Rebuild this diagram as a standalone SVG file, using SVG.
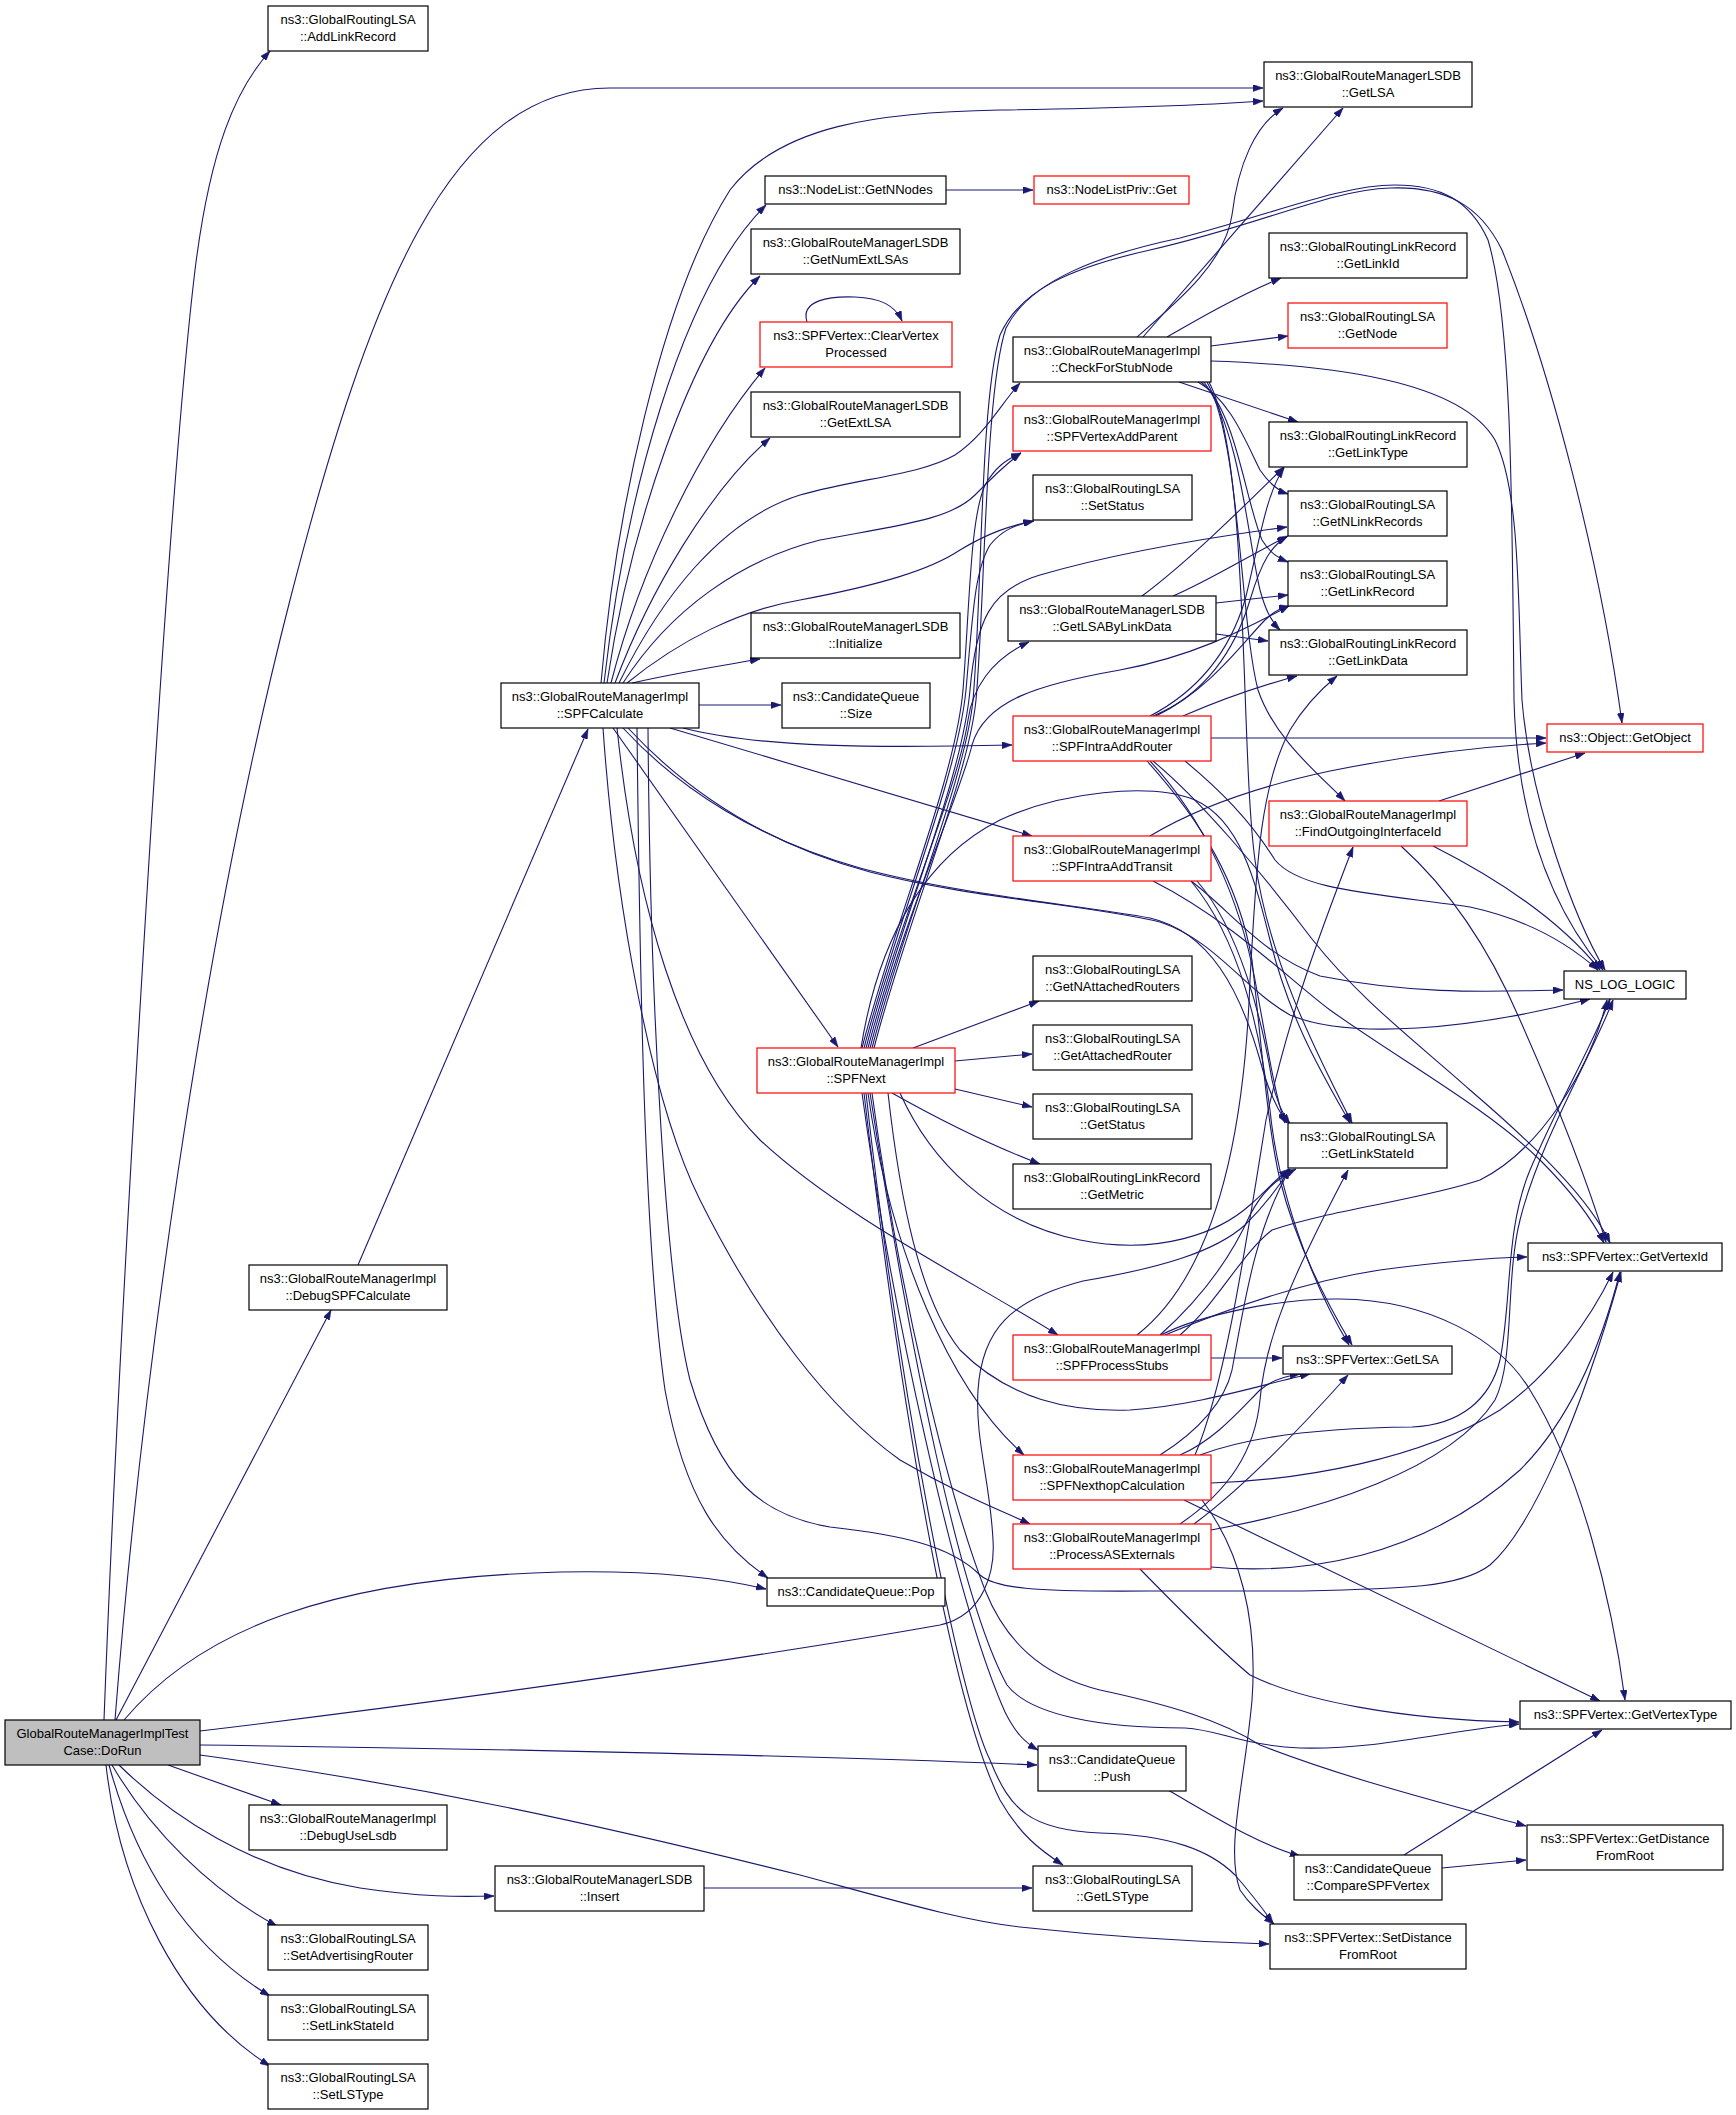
<svg xmlns="http://www.w3.org/2000/svg" width="1736" height="2115" viewBox="0 0 1736 2115">
<style>
.n rect{fill:#fff;stroke:#000;stroke-width:1.2}
.r rect{stroke:#ff0000}
.g rect{fill:#bfbfbf}
text{font-family:"Liberation Sans",Arial,Helvetica,sans-serif;font-size:13px;text-anchor:middle;fill:#000}
.e path{fill:none;stroke:#191970;stroke-width:1.1;marker-end:url(#a)}
</style>
<defs>
<marker id="a" viewBox="0 0 10 7" refX="10" refY="3.5" markerWidth="10" markerHeight="7" orient="auto" markerUnits="userSpaceOnUse"><path d="M0,0L10,3.5L0,7z" fill="#191970" stroke="#191970" stroke-width="0.5"/></marker>
</defs>
<rect width="1736" height="2115" fill="#fff"/>
<g id="edges" class="e">
<path d="M104,1720 C118,1350 165,520 195,270 C210,150 235,90 270,51"/>
<path d="M115,1720 C140,1400 200,950 290,600 C370,290 450,88 610,88 L1263,88"/>
<path d="M116,1720 L331,1310"/>
<path d="M124,1720 C200,1630 330,1578 560,1572 C660,1570 720,1578 766,1589"/>
<path d="M200,1731 C500,1695 800,1650 940,1625 C985,1615 995,1570 993,1540 C990,1480 975,1440 978,1390 C982,1330 1010,1300 1083,1281 C1160,1268 1215,1252 1245,1225 C1265,1205 1278,1188 1290,1169"/>
<path d="M200,1745 C450,1748 800,1755 1037,1765"/>
<path d="M200,1755 C420,1785 600,1825 800,1875 C900,1902 960,1920 1020,1927 C1120,1938 1200,1942 1269,1944"/>
<path d="M168,1765 L281,1805"/>
<path d="M119,1765 C170,1815 250,1870 360,1888 C420,1897 460,1897 494,1896"/>
<path d="M112,1765 C150,1830 210,1890 277,1926"/>
<path d="M109,1765 C135,1860 185,1945 270,1996"/>
<path d="M106,1765 C120,1890 180,2010 270,2066"/>
<path d="M704,1888 L1032,1888"/>
<path d="M358,1265 L588,729"/>
<path d="M601,683 C615,520 660,300 730,190 C780,125 880,112 1000,110 C1140,108 1220,104 1263,101"/>
<path d="M604,683 C625,500 680,290 766,205"/>
<path d="M607,683 C630,530 690,345 760,276"/>
<path d="M611,683 C640,570 700,445 765,368"/>
<path d="M615,683 C650,590 710,490 770,438"/>
<path d="M619,683 C660,600 720,520 800,495 C860,478 920,475 955,455 C985,435 1000,405 1020,383"/>
<path d="M623,683 C670,610 740,560 820,540 C900,525 950,520 975,495 C995,475 1005,465 1021,453"/>
<path d="M627,683 C680,640 740,610 800,600 C880,585 930,570 960,550 C990,532 1010,526 1033,521"/>
<path d="M632,683 C680,672 720,666 760,659"/>
<path d="M699,705 L781,705"/>
<path d="M683,728 C760,748 880,748 1012,745"/>
<path d="M670,728 L1032,836"/>
<path d="M613,728 L838,1047"/>
<path d="M623,728 C680,790 760,840 860,868 C960,895 1080,905 1150,918 C1210,932 1240,990 1260,1060 C1268,1090 1276,1108 1287,1123"/>
<path d="M628,728 C690,795 770,845 870,872 C970,898 1090,905 1160,922 C1215,940 1245,990 1290,1015 C1350,1040 1470,1030 1590,999"/>
<path d="M637,728 C640,1000 645,1250 665,1390 C685,1500 720,1545 768,1578"/>
<path d="M648,728 C650,1000 665,1280 690,1380 C720,1480 760,1515 830,1527 C900,1535 950,1545 980,1575 C995,1588 1030,1592 1150,1591 L1300,1591 C1400,1589 1460,1588 1490,1565 C1530,1530 1580,1420 1621,1272"/>
<path d="M603,728 C615,900 650,1100 700,1200 C760,1320 830,1410 900,1460 C960,1495 1000,1510 1030,1524"/>
<path d="M617,728 C635,900 680,1060 760,1140 C840,1215 970,1280 1058,1335"/>
<path d="M913,1048 L1039,1001"/>
<path d="M955,1061 L1032,1054"/>
<path d="M955,1089 L1032,1107"/>
<path d="M892,1093 C940,1120 990,1145 1040,1164"/>
<path d="M862,1048 C895,920 955,780 963,690 C970,600 970,520 985,485 C995,468 1005,460 1021,453"/>
<path d="M864,1048 C897,920 957,780 966,690 C973,610 975,570 990,545 C1002,530 1015,525 1034,521"/>
<path d="M866,1048 C899,920 958,790 968,720 C972,690 990,660 1029,642"/>
<path d="M868,1048 C901,920 962,780 970,690 C976,620 990,590 1040,575 C1120,552 1220,536 1287,527"/>
<path d="M870,1048 C903,920 962,790 972,745 C985,700 1040,684 1120,670 C1190,657 1240,632 1289,606"/>
<path d="M872,1048 C905,920 965,780 973,700 C982,600 980,400 1000,335 C1020,290 1070,268 1150,250 C1260,225 1330,190 1390,188 C1445,186 1480,205 1502,250 C1550,370 1600,560 1622,723"/>
<path d="M874,1048 C907,920 968,780 976,700 C985,600 985,390 1006,328 C1030,280 1100,255 1180,238 C1270,215 1340,185 1395,185 C1440,185 1470,200 1488,240 C1512,320 1512,500 1514,700 C1518,850 1570,930 1603,970"/>
<path d="M861,1048 C880,930 930,855 1000,820 C1060,792 1150,782 1195,800 C1240,820 1255,880 1270,940 C1290,1020 1320,1070 1350,1123"/>
<path d="M900,1093 C930,1160 990,1222 1080,1240 C1160,1256 1220,1232 1250,1205 C1265,1192 1275,1180 1289,1169"/>
<path d="M868,1093 C890,1250 950,1390 1024,1455"/>
<path d="M862,1093 C890,1300 955,1600 1005,1712 C1015,1732 1024,1742 1038,1750"/>
<path d="M864,1093 C900,1400 950,1700 1000,1800 C1020,1835 1040,1850 1063,1865"/>
<path d="M866,1093 C900,1400 960,1700 990,1760 C1010,1810 1030,1830 1100,1833 C1170,1835 1210,1850 1235,1875 C1250,1892 1260,1905 1273,1923"/>
<path d="M870,1093 C910,1350 960,1600 1007,1685 C1030,1715 1100,1728 1185,1728 C1220,1730 1240,1745 1300,1748 C1380,1750 1450,1730 1519,1724"/>
<path d="M872,1093 C900,1300 950,1500 985,1590 C1005,1640 1040,1675 1100,1690 C1170,1705 1220,1720 1260,1745 C1350,1780 1450,1805 1526,1826"/>
<path d="M888,1093 C900,1200 920,1300 960,1350 C1010,1400 1070,1412 1130,1410 C1200,1405 1260,1385 1310,1374"/>
<path d="M946,190 L1033,190"/>
<path d="M807,322 C800,300 830,296 855,297 C880,298 895,305 902,321"/>
<path d="M1137,337 C1180,300 1225,262 1232,215 C1238,165 1255,125 1283,108"/>
<path d="M1143,337 L1343,108"/>
<path d="M1167,337 C1200,318 1240,295 1281,278"/>
<path d="M1211,346 L1288,336"/>
<path d="M1211,361 C1330,365 1460,380 1495,440 C1520,490 1518,600 1522,700 C1530,800 1575,920 1605,970"/>
<path d="M1179,382 L1298,422"/>
<path d="M1198,382 C1230,400 1245,440 1260,470 C1268,482 1276,490 1288,494"/>
<path d="M1201,382 C1236,410 1245,500 1262,540 C1270,553 1278,558 1288,562"/>
<path d="M1204,382 C1240,430 1248,540 1260,590 C1265,608 1270,620 1280,630"/>
<path d="M1207,382 C1240,440 1240,620 1258,690 C1275,740 1320,775 1345,801"/>
<path d="M1209,382 C1250,460 1240,750 1255,860 C1268,960 1320,1060 1352,1123"/>
<path d="M1142,596 C1190,560 1240,510 1284,467"/>
<path d="M1173,596 C1210,580 1250,555 1288,536"/>
<path d="M1216,603 L1288,595"/>
<path d="M1216,634 L1268,641"/>
<path d="M1211,738 L1546,738"/>
<path d="M1150,716 C1200,690 1230,650 1245,600 C1258,550 1265,495 1284,468"/>
<path d="M1153,716 C1205,695 1235,650 1250,600 C1262,560 1272,545 1287,537"/>
<path d="M1156,716 C1210,690 1245,640 1265,620 C1273,612 1280,608 1289,606"/>
<path d="M1183,716 C1220,700 1260,686 1297,676"/>
<path d="M1185,761 C1220,790 1250,820 1275,860 C1300,890 1370,893 1470,907 C1530,920 1570,945 1598,970"/>
<path d="M1153,761 C1200,800 1260,870 1312,939 C1360,1000 1420,1045 1470,1090 C1540,1150 1590,1200 1610,1243"/>
<path d="M1150,761 C1205,820 1240,900 1255,980 C1268,1050 1275,1095 1285,1123"/>
<path d="M1147,761 C1200,820 1238,880 1252,960 C1262,1050 1268,1130 1280,1180 C1295,1240 1325,1300 1352,1345"/>
<path d="M1150,836 C1200,806 1260,786 1330,771 C1420,753 1490,746 1546,743"/>
<path d="M1191,881 C1230,910 1262,955 1320,976 C1420,996 1500,991 1563,990"/>
<path d="M1153,881 C1230,920 1290,980 1330,1010 C1400,1060 1490,1110 1540,1160 C1570,1190 1590,1215 1604,1243"/>
<path d="M1197,881 C1240,930 1262,1020 1272,1080 C1276,1100 1281,1112 1290,1124"/>
<path d="M1191,881 C1240,940 1260,1030 1270,1110 C1278,1190 1310,1280 1349,1345"/>
<path d="M1439,801 L1585,753"/>
<path d="M1433,846 C1500,880 1560,920 1600,970"/>
<path d="M1401,846 C1450,890 1490,950 1520,1020 C1560,1110 1590,1190 1606,1242"/>
<path d="M1211,1358 L1282,1358"/>
<path d="M1160,1335 C1205,1295 1232,1255 1250,1215 C1262,1192 1275,1180 1296,1169"/>
<path d="M1165,1335 C1220,1312 1300,1282 1380,1270 C1440,1262 1480,1258 1527,1257"/>
<path d="M1161,1335 C1200,1315 1280,1298 1340,1299 C1430,1300 1500,1340 1530,1390 C1580,1470 1612,1600 1625,1700"/>
<path d="M1180,1335 C1220,1300 1240,1255 1272,1230 C1330,1210 1420,1200 1480,1180 C1540,1150 1590,1070 1607,1000"/>
<path d="M1137,1335 C1220,1270 1245,1120 1250,980 C1256,880 1258,790 1290,730 C1305,705 1320,690 1337,676"/>
<path d="M1195,1455 C1225,1385 1245,1250 1266,1120 C1290,1010 1325,920 1353,847"/>
<path d="M1160,1455 C1200,1430 1225,1400 1232,1370 C1245,1300 1255,1230 1290,1169"/>
<path d="M1180,1455 C1215,1440 1240,1410 1260,1390 C1272,1380 1285,1376 1300,1374"/>
<path d="M1200,1455 C1240,1440 1300,1428 1412,1427 C1460,1425 1490,1400 1500,1360 C1512,1300 1505,1230 1530,1170 C1560,1100 1595,1040 1610,999"/>
<path d="M1211,1483 C1300,1480 1420,1460 1500,1410 C1550,1375 1590,1320 1613,1272"/>
<path d="M1184,1500 L1600,1701"/>
<path d="M1202,1500 C1240,1550 1258,1620 1252,1700 C1245,1780 1225,1850 1240,1890 C1250,1905 1260,1913 1274,1924"/>
<path d="M1194,1524 C1240,1490 1290,1440 1348,1375"/>
<path d="M1180,1524 C1230,1490 1255,1450 1260,1400 C1265,1340 1290,1280 1348,1170"/>
<path d="M1211,1530 C1320,1510 1450,1470 1495,1400 C1515,1360 1505,1280 1520,1220 C1540,1140 1590,1060 1613,1000"/>
<path d="M1211,1567 C1300,1575 1420,1560 1520,1470 C1570,1420 1600,1350 1620,1272"/>
<path d="M1140,1569 C1180,1610 1220,1650 1250,1675 C1300,1700 1400,1720 1519,1722"/>
<path d="M1168,1790 C1220,1820 1260,1845 1300,1856"/>
<path d="M1404,1855 L1602,1730"/>
<path d="M1442,1868 L1526,1860"/>
</g>
<g id="n_DoRun" class="n g"><rect x="5" y="1720" width="195" height="45"/><text x="102.5" y="1738">GlobalRouteManagerImplTest</text><text x="102.5" y="1754.5">Case::DoRun</text></g>
<g id="n_AddLinkRecord" class="n"><rect x="268" y="6" width="160" height="45"/><text x="348" y="24">ns3::GlobalRoutingLSA</text><text x="348" y="40.5">::AddLinkRecord</text></g>
<g id="n_LSDBGetLSA" class="n"><rect x="1264" y="62" width="208" height="45"/><text x="1368" y="80">ns3::GlobalRouteManagerLSDB</text><text x="1368" y="96.5">::GetLSA</text></g>
<g id="n_DebugSPFCalculate" class="n"><rect x="249" y="1265" width="198" height="45"/><text x="348" y="1283">ns3::GlobalRouteManagerImpl</text><text x="348" y="1299.5">::DebugSPFCalculate</text></g>
<g id="n_SPFCalculate" class="n"><rect x="501" y="683" width="198" height="45"/><text x="600" y="701">ns3::GlobalRouteManagerImpl</text><text x="600" y="717.5">::SPFCalculate</text></g>
<g id="n_GetNNodes" class="n"><rect x="765" y="176" width="181" height="28"/><text x="855.5" y="194">ns3::NodeList::GetNNodes</text></g>
<g id="n_NodeListPrivGet" class="n r"><rect x="1034" y="176" width="155" height="28"/><text x="1111.5" y="194">ns3::NodeListPriv::Get</text></g>
<g id="n_GetNumExtLSAs" class="n"><rect x="751" y="229" width="209" height="45"/><text x="855.5" y="247">ns3::GlobalRouteManagerLSDB</text><text x="855.5" y="263.5">::GetNumExtLSAs</text></g>
<g id="n_ClearVertexProcessed" class="n r"><rect x="760" y="322" width="192" height="45"/><text x="856" y="340">ns3::SPFVertex::ClearVertex</text><text x="856" y="356.5">Processed</text></g>
<g id="n_GetExtLSA" class="n"><rect x="751" y="392" width="209" height="45"/><text x="855.5" y="410">ns3::GlobalRouteManagerLSDB</text><text x="855.5" y="426.5">::GetExtLSA</text></g>
<g id="n_Initialize" class="n"><rect x="751" y="613" width="209" height="45"/><text x="855.5" y="631">ns3::GlobalRouteManagerLSDB</text><text x="855.5" y="647.5">::Initialize</text></g>
<g id="n_Size" class="n"><rect x="782" y="683" width="148" height="45"/><text x="856" y="701">ns3::CandidateQueue</text><text x="856" y="717.5">::Size</text></g>
<g id="n_CheckForStubNode" class="n"><rect x="1013" y="337" width="198" height="45"/><text x="1112" y="355">ns3::GlobalRouteManagerImpl</text><text x="1112" y="371.5">::CheckForStubNode</text></g>
<g id="n_SPFVertexAddParent" class="n r"><rect x="1013" y="406" width="198" height="45"/><text x="1112" y="424">ns3::GlobalRouteManagerImpl</text><text x="1112" y="440.5">::SPFVertexAddParent</text></g>
<g id="n_SetStatus" class="n"><rect x="1033" y="475" width="159" height="45"/><text x="1112.5" y="493">ns3::GlobalRoutingLSA</text><text x="1112.5" y="509.5">::SetStatus</text></g>
<g id="n_GetLSAByLinkData" class="n"><rect x="1008" y="596" width="208" height="45"/><text x="1112" y="614">ns3::GlobalRouteManagerLSDB</text><text x="1112" y="630.5">::GetLSAByLinkData</text></g>
<g id="n_SPFIntraAddRouter" class="n r"><rect x="1013" y="716" width="198" height="45"/><text x="1112" y="734">ns3::GlobalRouteManagerImpl</text><text x="1112" y="750.5">::SPFIntraAddRouter</text></g>
<g id="n_SPFIntraAddTransit" class="n r"><rect x="1013" y="836" width="198" height="45"/><text x="1112" y="854">ns3::GlobalRouteManagerImpl</text><text x="1112" y="870.5">::SPFIntraAddTransit</text></g>
<g id="n_SPFNext" class="n r"><rect x="757" y="1048" width="198" height="45"/><text x="856" y="1066">ns3::GlobalRouteManagerImpl</text><text x="856" y="1082.5">::SPFNext</text></g>
<g id="n_GetNAttachedRouters" class="n"><rect x="1033" y="956" width="159" height="45"/><text x="1112.5" y="974">ns3::GlobalRoutingLSA</text><text x="1112.5" y="990.5">::GetNAttachedRouters</text></g>
<g id="n_GetAttachedRouter" class="n"><rect x="1033" y="1025" width="159" height="45"/><text x="1112.5" y="1043">ns3::GlobalRoutingLSA</text><text x="1112.5" y="1059.5">::GetAttachedRouter</text></g>
<g id="n_GetStatus" class="n"><rect x="1033" y="1094" width="159" height="45"/><text x="1112.5" y="1112">ns3::GlobalRoutingLSA</text><text x="1112.5" y="1128.5">::GetStatus</text></g>
<g id="n_GetMetric" class="n"><rect x="1013" y="1164" width="198" height="45"/><text x="1112" y="1182">ns3::GlobalRoutingLinkRecord</text><text x="1112" y="1198.5">::GetMetric</text></g>
<g id="n_SPFProcessStubs" class="n r"><rect x="1013" y="1335" width="198" height="45"/><text x="1112" y="1353">ns3::GlobalRouteManagerImpl</text><text x="1112" y="1369.5">::SPFProcessStubs</text></g>
<g id="n_SPFNexthopCalculation" class="n r"><rect x="1013" y="1455" width="198" height="45"/><text x="1112" y="1473">ns3::GlobalRouteManagerImpl</text><text x="1112" y="1489.5">::SPFNexthopCalculation</text></g>
<g id="n_ProcessASExternals" class="n r"><rect x="1013" y="1524" width="198" height="45"/><text x="1112" y="1542">ns3::GlobalRouteManagerImpl</text><text x="1112" y="1558.5">::ProcessASExternals</text></g>
<g id="n_Pop" class="n"><rect x="767" y="1578" width="178" height="28"/><text x="856" y="1596">ns3::CandidateQueue::Pop</text></g>
<g id="n_Push" class="n"><rect x="1038" y="1746" width="148" height="45"/><text x="1112" y="1764">ns3::CandidateQueue</text><text x="1112" y="1780.5">::Push</text></g>
<g id="n_GetLSType" class="n"><rect x="1033" y="1866" width="159" height="45"/><text x="1112.5" y="1884">ns3::GlobalRoutingLSA</text><text x="1112.5" y="1900.5">::GetLSType</text></g>
<g id="n_Insert" class="n"><rect x="495" y="1866" width="209" height="45"/><text x="599.5" y="1884">ns3::GlobalRouteManagerLSDB</text><text x="599.5" y="1900.5">::Insert</text></g>
<g id="n_DebugUseLsdb" class="n"><rect x="249" y="1805" width="198" height="45"/><text x="348" y="1823">ns3::GlobalRouteManagerImpl</text><text x="348" y="1839.5">::DebugUseLsdb</text></g>
<g id="n_SetAdvertisingRouter" class="n"><rect x="268" y="1925" width="160" height="45"/><text x="348" y="1943">ns3::GlobalRoutingLSA</text><text x="348" y="1959.5">::SetAdvertisingRouter</text></g>
<g id="n_SetLinkStateId" class="n"><rect x="268" y="1995" width="160" height="45"/><text x="348" y="2013">ns3::GlobalRoutingLSA</text><text x="348" y="2029.5">::SetLinkStateId</text></g>
<g id="n_SetLSType" class="n"><rect x="268" y="2064" width="160" height="45"/><text x="348" y="2082">ns3::GlobalRoutingLSA</text><text x="348" y="2098.5">::SetLSType</text></g>
<g id="n_GetLinkId" class="n"><rect x="1269" y="233" width="198" height="45"/><text x="1368" y="251">ns3::GlobalRoutingLinkRecord</text><text x="1368" y="267.5">::GetLinkId</text></g>
<g id="n_GetNode" class="n r"><rect x="1288" y="303" width="159" height="45"/><text x="1367.5" y="321">ns3::GlobalRoutingLSA</text><text x="1367.5" y="337.5">::GetNode</text></g>
<g id="n_GetLinkType" class="n"><rect x="1269" y="422" width="198" height="45"/><text x="1368" y="440">ns3::GlobalRoutingLinkRecord</text><text x="1368" y="456.5">::GetLinkType</text></g>
<g id="n_GetNLinkRecords" class="n"><rect x="1288" y="491" width="159" height="45"/><text x="1367.5" y="509">ns3::GlobalRoutingLSA</text><text x="1367.5" y="525.5">::GetNLinkRecords</text></g>
<g id="n_GetLinkRecord" class="n"><rect x="1288" y="561" width="159" height="45"/><text x="1367.5" y="579">ns3::GlobalRoutingLSA</text><text x="1367.5" y="595.5">::GetLinkRecord</text></g>
<g id="n_GetLinkData" class="n"><rect x="1269" y="630" width="198" height="45"/><text x="1368" y="648">ns3::GlobalRoutingLinkRecord</text><text x="1368" y="664.5">::GetLinkData</text></g>
<g id="n_FindOutgoingInterfaceId" class="n r"><rect x="1269" y="801" width="198" height="45"/><text x="1368" y="819">ns3::GlobalRouteManagerImpl</text><text x="1368" y="835.5">::FindOutgoingInterfaceId</text></g>
<g id="n_GetLinkStateId" class="n"><rect x="1288" y="1123" width="159" height="45"/><text x="1367.5" y="1141">ns3::GlobalRoutingLSA</text><text x="1367.5" y="1157.5">::GetLinkStateId</text></g>
<g id="n_SPFVertexGetLSA" class="n"><rect x="1283" y="1346" width="169" height="28"/><text x="1367.5" y="1364">ns3::SPFVertex::GetLSA</text></g>
<g id="n_CompareSPFVertex" class="n"><rect x="1294" y="1855" width="148" height="45"/><text x="1368" y="1873">ns3::CandidateQueue</text><text x="1368" y="1889.5">::CompareSPFVertex</text></g>
<g id="n_SetDistanceFromRoot" class="n"><rect x="1270" y="1924" width="196" height="45"/><text x="1368" y="1942">ns3::SPFVertex::SetDistance</text><text x="1368" y="1958.5">FromRoot</text></g>
<g id="n_GetObject" class="n r"><rect x="1547" y="724" width="156" height="28"/><text x="1625" y="742">ns3::Object::GetObject</text></g>
<g id="n_NS_LOG_LOGIC" class="n"><rect x="1564" y="971" width="122" height="28"/><text x="1625" y="989">NS_LOG_LOGIC</text></g>
<g id="n_GetVertexId" class="n"><rect x="1528" y="1243" width="194" height="28"/><text x="1625" y="1261">ns3::SPFVertex::GetVertexId</text></g>
<g id="n_GetVertexType" class="n"><rect x="1520" y="1701" width="211" height="28"/><text x="1625.5" y="1719">ns3::SPFVertex::GetVertexType</text></g>
<g id="n_GetDistanceFromRoot" class="n"><rect x="1527" y="1825" width="196" height="45"/><text x="1625" y="1843">ns3::SPFVertex::GetDistance</text><text x="1625" y="1859.5">FromRoot</text></g>
</svg>
